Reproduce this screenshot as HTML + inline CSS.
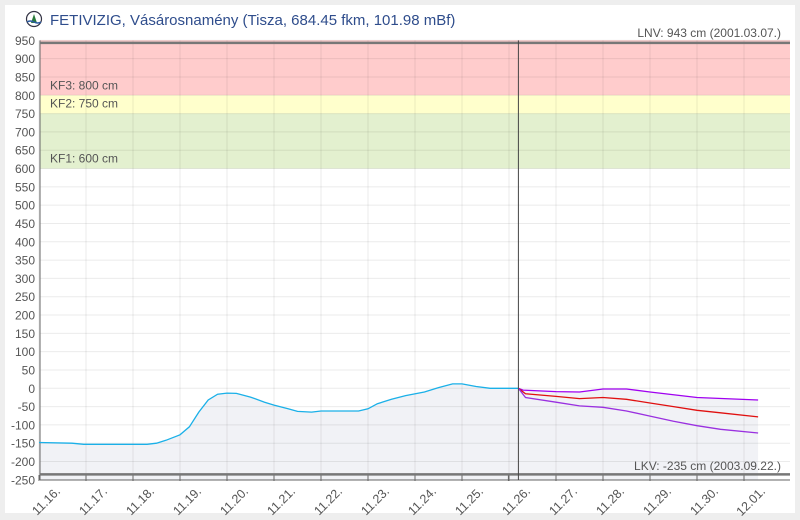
<!DOCTYPE html>
<html><head><meta charset="utf-8"><style>
body{margin:0;background:#eee;width:800px;height:520px;overflow:hidden;font-family:"Liberation Sans",sans-serif}
svg{position:absolute;left:0;top:0}
</style></head><body>
<svg id="s" width="800" height="520" xmlns="http://www.w3.org/2000/svg" font-family="Liberation Sans, sans-serif">
<rect x="5" y="5" width="790" height="508" fill="#fff"/>
</svg>
<script>
const s=document.getElementById('s');
const X=t=>39+47*t, Y=v=>388.3-v*0.3663;
let h='';
const L=40,R=790;
h+=`<rect x="${L}" y="${Y(950)}" width="${R-L}" height="${Y(800)-Y(950)}" fill="#ffcccc"/>`;
h+=`<rect x="${L}" y="${Y(800)}" width="${R-L}" height="${Y(750)-Y(800)}" fill="#ffffcc"/>`;
h+=`<rect x="${L}" y="${Y(750)}" width="${R-L}" height="${Y(600)-Y(750)}" fill="#e3f0cf"/>`;
const blue=[[0,-148],[0.7,-150],[0.95,-153],[2.3,-153],[2.5,-150],[2.7,-142],[3.0,-127],[3.2,-105],[3.4,-65],[3.6,-32],[3.8,-16],[4.0,-13],[4.2,-14],[4.5,-24],[4.8,-38],[5.0,-46],[5.3,-56],[5.5,-63],[5.8,-65],[6.0,-62],[6.8,-62],[7.0,-56],[7.2,-42],[7.5,-30],[7.8,-20],[8.2,-10],[8.5,2],[8.8,12],[9.0,12],[9.3,5],[9.6,0],[10.2,0]];
const pt=[[10.2,0],[10.3,-5],[11,-9],[11.5,-10],[12,-2],[12.5,-2],[13,-10],[14,-25],[15.3,-32]];
const rd=[[10.2,0],[10.35,-15],[11,-22],[11.5,-28],[12,-25],[12.5,-30],[13,-40],[13.5,-50],[14,-60],[14.5,-67],[15.3,-78]];
const pl=[[10.2,0],[10.35,-25],[11,-38],[11.5,-48],[12,-52],[12.5,-62],[13,-76],[13.5,-90],[14,-102],[14.5,-112],[15.3,-122]];
const P=a=>a.map((p,i)=>(i?'L':'M')+X(p[0]).toFixed(1)+' '+Y(p[1]).toFixed(1)).join(' ');
const env=blue.concat(pt.slice(1));
h+=`<path d="${P(env)} L${X(15.3)} ${Y(-250)} L${X(0)} ${Y(-250)} Z" fill="#f1f2f6"/>`;
for(let v=-250;v<=950;v+=50){h+=`<line x1="${L}" x2="${R}" y1="${Y(v)}" y2="${Y(v)}" stroke="rgba(0,0,0,0.08)"/>`;
h+=`<text x="35" y="${Y(v)+4.5}" text-anchor="end" font-size="12" fill="#555">${v}</text>`;}
const lab=['11.16.','11.17.','11.18.','11.19.','11.20.','11.21.','11.22.','11.23.','11.24.','11.25.','11.26.','11.27.','11.28.','11.29.','11.30.','12.01.'];
for(let d=0;d<16;d++){const x=X(d);h+=`<line x1="${x}" x2="${x}" y1="${Y(950)}" y2="480" stroke="rgba(0,0,0,0.08)"/>`;
h+=`<line x1="${x}" x2="${x}" y1="475" y2="481" stroke="#666"/>`;
h+=`<text transform="translate(${x+22},492) rotate(-45)" text-anchor="end" font-size="12.5" fill="#555">${lab[d]}</text>`;}
h+=`<line x1="${X(10.2)-10}" x2="${X(10.2)-10}" y1="475" y2="481" stroke="#666"/>`;
h+=`<line x1="${L}" x2="${L}" y1="${Y(950)}" y2="480" stroke="#666"/>`;
h+=`<line x1="${L}" x2="${R}" y1="480" y2="480" stroke="#666"/>`;
h+=`<line x1="${L}" x2="${R}" y1="${Y(943)}" y2="${Y(943)}" stroke="#777" stroke-width="2.5"/>`;
h+=`<line x1="${L}" x2="${R}" y1="${Y(-235)}" y2="${Y(-235)}" stroke="#777" stroke-width="2.5"/>`;
h+=`<path d="${P(blue)}" fill="none" stroke="#1ab0e8" stroke-width="1.3"/>`;
h+=`<path d="${P(pt)}" fill="none" stroke="#a000f0" stroke-width="1.3"/>`;
h+=`<path d="${P(rd)}" fill="none" stroke="#e01010" stroke-width="1.3"/>`;
h+=`<path d="${P(pl)}" fill="none" stroke="#9a30e0" stroke-width="1.3"/>`;
h+=`<line x1="${X(10.2)}" x2="${X(10.2)}" y1="${Y(950)}" y2="480" stroke="#444"/>`;
h+=`<text x="50" y="${Y(800)-6}" font-size="12" fill="#555">KF3: 800 cm</text>`;
h+=`<text x="50" y="${Y(750)-6}" font-size="12" fill="#555">KF2: 750 cm</text>`;
h+=`<text x="50" y="${Y(600)-6}" font-size="12" fill="#555">KF1: 600 cm</text>`;
h+=`<text x="781" y="37" text-anchor="end" font-size="12" fill="#555">LNV: 943 cm (2001.03.07.)</text>`;
h+=`<text x="781" y="470" text-anchor="end" font-size="12" fill="#555">LKV: -235 cm (2003.09.22.)</text>`;
h+=`<circle cx="34" cy="19" r="7.5" fill="#fff" stroke="#334" stroke-width="1.2"/><path d="M31 23 L34 14 L37 23Z" fill="#2a7a3a"/><path d="M27 22 Q30 20 34 22 T41 22" fill="none" stroke="#2a5aa0" stroke-width="1.5"/>`;
h+=`<text x="50" y="25" font-size="15" fill="#2f4d8c">FETIVIZIG, Vásárosnamény (Tisza, 684.45 fkm, 101.98 mBf)</text>`;
s.insertAdjacentHTML('beforeend',h);
</script>
</body></html>
